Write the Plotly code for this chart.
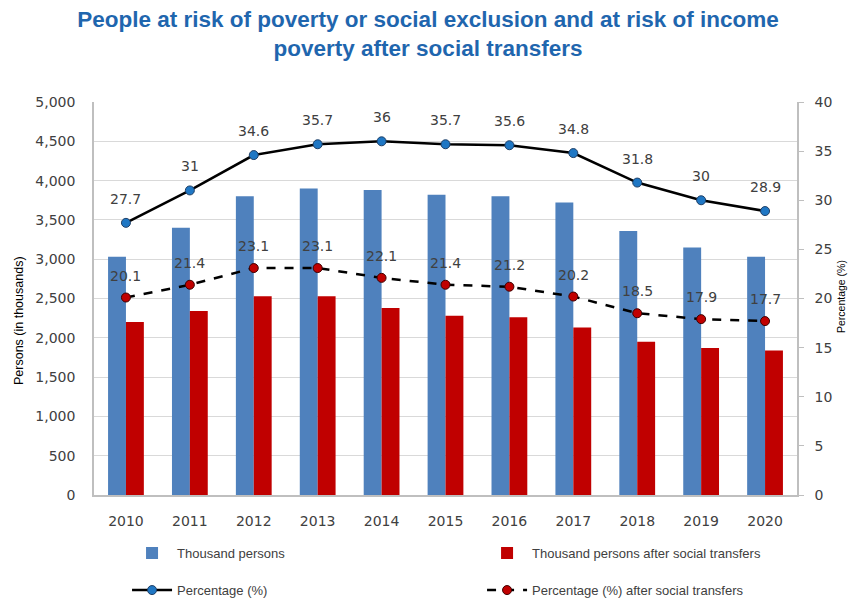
import plotly.graph_objects as go

years = ["2010", "2011", "2012", "2013", "2014", "2015", "2016", "2017", "2018", "2019", "2020"]
persons = [3030, 3400, 3800, 3900, 3880, 3820, 3800, 3720, 3360, 3150, 3030]
persons_after = [2200, 2340, 2530, 2530, 2380, 2280, 2260, 2130, 1950, 1870, 1840]
pct = [27.7, 31, 34.6, 35.7, 36, 35.7, 35.6, 34.8, 31.8, 30, 28.9]
pct_after = [20.1, 21.4, 23.1, 23.1, 22.1, 21.4, 21.2, 20.2, 18.5, 17.9, 17.7]

FONT = "DejaVu Sans"
LFONT = "Liberation Sans"
TXT = "#404040"

fig = go.Figure()
fig.add_trace(go.Bar(x=years, y=persons, name="Thousand persons", legend="legend",
                     marker=dict(color="#4F81BD", line=dict(width=0))))
fig.add_trace(go.Bar(x=years, y=persons_after, name="Thousand persons after social transfers",
                     legend="legend2", marker=dict(color="#C00000", line=dict(width=0))))
fig.add_trace(go.Scatter(x=years, y=pct, name="Percentage (%)", yaxis="y2", legend="legend3",
                         mode="lines+markers",
                         line=dict(color="black", width=2.5),
                         marker=dict(color="#1F77C4", size=9, symbol="circle",
                                     line=dict(color="#1F3F66", width=1))))
fig.add_trace(go.Scatter(x=years, y=pct_after, name="Percentage (%) after social transfers",
                         yaxis="y2", legend="legend4", mode="lines+markers",
                         line=dict(color="black", width=2.5, dash="dash"),
                         marker=dict(color="#C00000", size=9, symbol="circle",
                                     line=dict(color="#3F0000", width=1))))

annotations = []
for i, v in enumerate(pct):
    annotations.append(dict(x=i, y=v, xref="x", yref="y2", text=str(v), showarrow=False,
                            yshift=24, font=dict(family=FONT, size=14, color=TXT)))
for i, v in enumerate(pct_after):
    annotations.append(dict(x=i, y=v, xref="x", yref="y2", text=str(v), showarrow=False,
                            yshift=22, font=dict(family=FONT, size=14, color=TXT)))

# axis titles placed as rotated annotations
annotations.append(dict(text="Persons (in thousands)", xref="paper", yref="paper",
                        x=(19 - 94) / 703, y=(495 - 321) / 393, textangle=-90,
                        showarrow=False, xanchor="center", yanchor="middle",
                        font=dict(family=LFONT, size=12.5, color="black")))
annotations.append(dict(text="Percentage (%)", xref="paper", yref="paper",
                        x=(841 - 94) / 703, y=(495 - 297) / 393, textangle=-90,
                        showarrow=False, xanchor="center", yanchor="middle",
                        font=dict(family=LFONT, size=10.5, color="black")))

legend_common = dict(orientation="h", xanchor="left", yanchor="middle",
                     font=dict(family=LFONT, size=13, color=TXT), itemwidth=40,
                     bgcolor="rgba(0,0,0,0)")

fig.update_layout(
    width=848, height=592,
    margin=dict(l=86, r=59, t=94, b=105, autoexpand=False),
    paper_bgcolor="white", plot_bgcolor="white",
    font=dict(family=FONT, size=13, color=TXT),
    title=dict(text="People at risk of poverty or social exclusion and at risk of income<br>poverty after social transfers",
               x=0.4953, xanchor="center", y=0.968, yanchor="top",
               font=dict(family=LFONT, size=22.5, color="#1F66AE", weight="bold")),
    barmode="group", bargap=0.44, bargroupgap=0,
    showlegend=True,
    xaxis=dict(type="category", range=[-0.5, 10.5], showline=True, linecolor="#BFBFBF",
               linewidth=1.5, ticks="", showgrid=False, ticklabelstandoff=12,
               tickfont=dict(size=14, color=TXT)),
    yaxis=dict(range=[0, 5000], dtick=500, tickformat=",", showgrid=True, gridcolor="#D9D9D9",
               gridwidth=1.2, showline=True, linecolor="#BFBFBF", linewidth=1.5, zeroline=False,
               ticks="", ticklabelstandoff=14, tickfont=dict(size=14, color=TXT)),
    yaxis2=dict(range=[0, 40], dtick=5, overlaying="y", side="right", showgrid=False,
                showline=True, linecolor="#BFBFBF", linewidth=1.5, zeroline=False,
                ticks="outside", ticklen=5, tickcolor="#BFBFBF", ticklabelstandoff=8,
                tickfont=dict(size=14, color=TXT)),
    legend=dict(x=0.047, y=-0.148, **legend_common),
    legend2=dict(x=0.552, y=-0.148, **legend_common),
    legend3=dict(x=0.047, y=-0.242, **legend_common),
    legend4=dict(x=0.552, y=-0.242, **legend_common),
    annotations=annotations,
)

fig.write_html("out.html")
